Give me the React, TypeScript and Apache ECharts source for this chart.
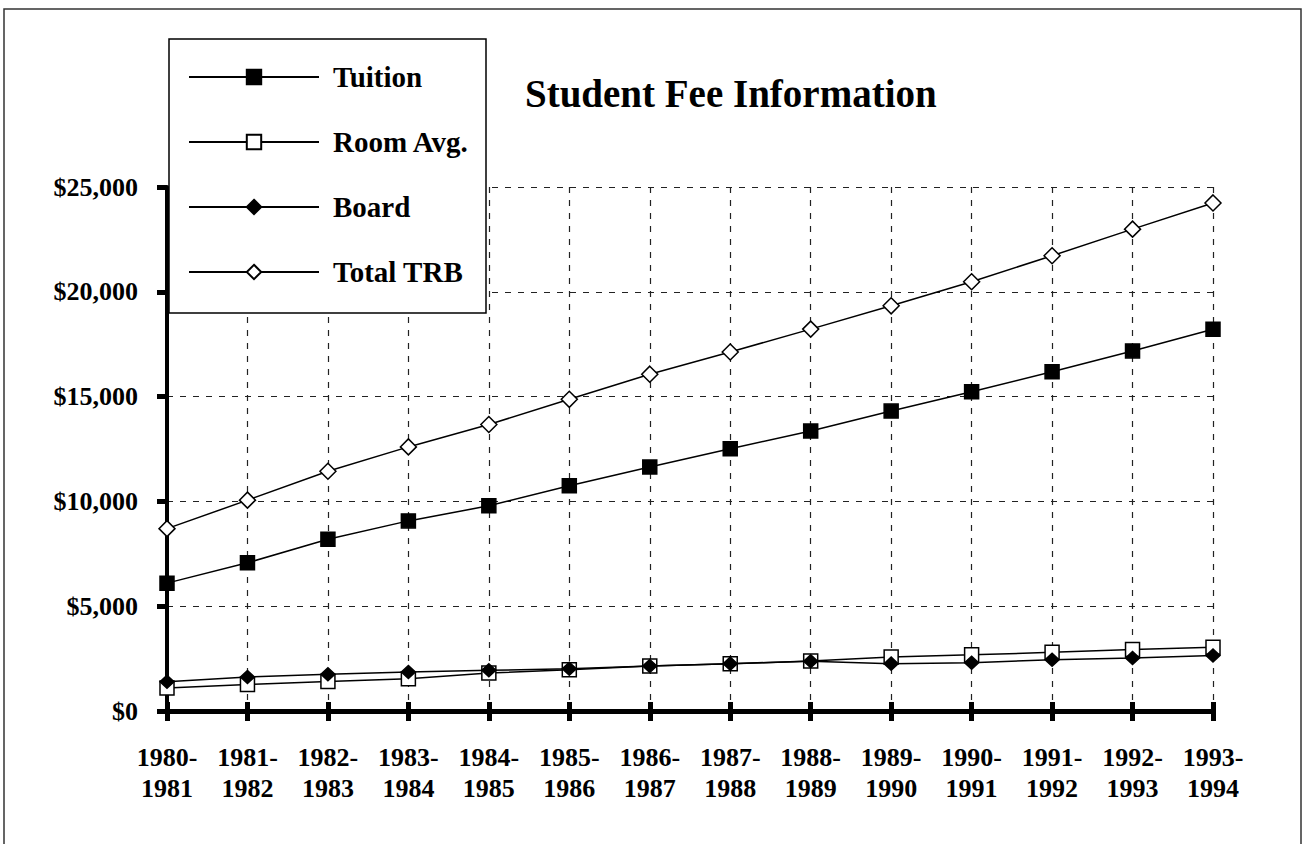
import React, { useEffect, useRef } from "react";
import * as echarts from "echarts";

const categories = [
  "1980-\n1981", "1981-\n1982", "1982-\n1983", "1983-\n1984", "1984-\n1985",
  "1985-\n1986", "1986-\n1987", "1987-\n1988", "1988-\n1989", "1989-\n1990",
  "1990-\n1991", "1991-\n1992", "1992-\n1993", "1993-\n1994",
];
const tuition = [6100, 7070, 8190, 9070, 9790, 10750, 11640, 12510, 13360, 14310, 15230, 16190, 17180, 18210];
const roomAvg = [1100, 1270, 1410, 1540, 1810, 1970, 2150, 2260, 2380, 2580, 2680, 2800, 2930, 3040];
const board = [1400, 1620, 1750, 1860, 1940, 2020, 2150, 2260, 2370, 2260, 2300, 2450, 2530, 2650];
const totalTRB = [8700, 10060, 11440, 12600, 13670, 14870, 16070, 17130, 18220, 19330, 20480, 21720, 22990, 24240];
const yTicks = { min: 0, max: 25000, interval: 5000 };

const FONT = "'Liberation Serif', 'DejaVu Serif', serif";

export default function App() {
  const ref = useRef<HTMLDivElement>(null);
  useEffect(() => {
    if (!ref.current) return;
    const chart = echarts.init(ref.current, null, { renderer: "svg" });
    const dashed = { color: "#222", width: 1.2, type: [6, 7] as any };
    const lineSeries = (name: string, data: number[], symbol: string, size: any, fill: string) => ({
      name,
      type: "line",
      data,
      symbol,
      symbolSize: size,
      showSymbol: true,
      lineStyle: { color: "#000", width: 1.5 },
      itemStyle: { color: fill, borderColor: "#000", borderWidth: 1.5 },
      emphasis: { disabled: true },
      z: 2,
    });
    chart.setOption({
      animation: false,
      backgroundColor: "#fff",
      title: {
        text: "Student Fee Information",
        left: 525,
        top: 71,
        padding: 0,
        textStyle: { fontFamily: FONT, fontWeight: "bold", fontSize: 39, lineHeight: 44, color: "#000" },
      },
      graphic: [
        {
          type: "rect",
          z: 3,
          shape: { x: 4, y: 9, width: 1297, height: 900 },
          style: { fill: "none", stroke: "#333", lineWidth: 1.5 },
        },
        {
          type: "rect",
          z: 3,
          shape: { x: 169, y: 39, width: 317, height: 274 },
          style: { fill: "#fff", stroke: "#000", lineWidth: 1.5 },
        },
      ],
      legend: {
        orient: "vertical",
        left: 188,
        top: 62,
        padding: 0,
        itemWidth: 130,
        itemHeight: 18,
        itemGap: 35,
        z: 5,
        selectedMode: false,
        textStyle: { fontFamily: FONT, fontWeight: "bold", fontSize: 29, lineHeight: 30, color: "#000", padding: [0, 0, 0, 9] },
        data: ["Tuition", "Room Avg.", "Board", "Total TRB"],
      },
      grid: { left: 167, right: 93, top: 187, bottom: 133, containLabel: false },
      xAxis: [
        {
          type: "category",
          data: categories,
          boundaryGap: false,
          axisLine: { show: true, lineStyle: { color: "#000", width: 5 } },
          axisTick: { show: true, inside: false, length: 10, lineStyle: { color: "#000", width: 5 } },
          axisLabel: { fontFamily: FONT, fontWeight: "bold", fontSize: 26, lineHeight: 31, color: "#000", margin: 31, interval: 0 },
          splitLine: { show: true, lineStyle: dashed },
        },
        {
          type: "category",
          data: categories,
          boundaryGap: false,
          position: "bottom",
          axisLine: { show: false },
          axisTick: { show: true, inside: true, length: 9, lineStyle: { color: "#000", width: 5 } },
          axisLabel: { show: false },
          splitLine: { show: false },
        },
      ],
      yAxis: {
        type: "value",
        min: yTicks.min,
        max: yTicks.max,
        interval: yTicks.interval,
        axisLine: { show: true, lineStyle: { color: "#000", width: 4 } },
        axisTick: { show: true, inside: false, length: 10, lineStyle: { color: "#000", width: 5 } },
        axisLabel: {
          fontFamily: FONT,
          fontWeight: "bold",
          fontSize: 26,
          color: "#000",
          margin: 29,
          formatter: (v: number) => "$" + v.toLocaleString("en-US"),
        },
        splitLine: { show: true, lineStyle: dashed },
      },
      series: [
        lineSeries("Tuition", tuition, "rect", 14, "#000"),
        lineSeries("Room Avg.", roomAvg, "rect", 14, "#fff"),
        lineSeries("Board", board, "diamond", [14, 13], "#000"),
        lineSeries("Total TRB", totalTRB, "diamond", 16, "#fff"),
      ],
    });
    return () => chart.dispose();
  }, []);
  return (
    <div
      ref={ref}
      style={{ position: "absolute", left: 0, top: 0, width: 1306, height: 844, background: "#fff" }}
    />
  );
}
